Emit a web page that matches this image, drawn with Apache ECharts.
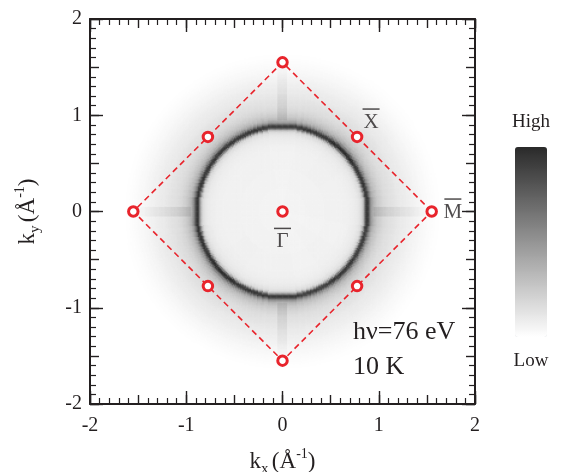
<!DOCTYPE html>
<html><head><meta charset="utf-8">
<script src="https://cdn.jsdelivr.net/npm/echarts@6/dist/echarts.min.js"></script>
<style>html,body{margin:0;padding:0;background:#fff}#c{width:562px;height:472px}</style>
</head><body><div id="c"></div>
<script>
// ---- data ----
const cellStep = 0.0125; // k-space cell size (1/Å)
// intensity (0 = white, 1 = darkest) versus |k|, sampled every 0.0125 1/Å starting at |k| = 0
const radialProfile = [
  0.05,0.05,0.05,0.05,0.05,0.05,0.05,0.05,
  0.055,0.055,0.055,0.055,0.055,0.055,0.055,0.055,0.055,0.055,0.055,0.055,
  0.06,0.06,0.06,0.06,0.06,0.06,0.06,0.06,0.06,0.06,0.06,0.06,0.06,0.06,0.06,0.06,
  0.065,0.065,0.065,0.065,0.065,0.065,0.065,0.065,0.065,0.065,0.065,0.065,0.065,
  0.065,0.065,0.07,0.07,0.07,0.07,0.075,0.075,
  0.08,0.08,0.085,0.09,0.095,0.1,0.11,0.12,0.14,0.16,0.22,0.35,0.6,0.86,0.95,0.88,
  0.7,0.55,0.45,0.38,0.33,0.3,0.27,0.25,0.23,0.215,0.2,0.19,0.18,0.17,0.16,0.155,
  0.15,0.145,0.14,0.135,0.13,0.125,0.12,0.115,0.11,0.105,0.1,0.098,0.095,0.09,0.087,0.083,
  0.08,0.076,0.072,0.068,0.064,0.06,0.056,0.052,0.048,0.045,0.042,0.038,0.035,0.032,0.029,0.026,
  0.023,0.02,0.018,0.015,0.013,0.011,0.009,0.007,0.005,0.004,0.003,0.002
];
// relative ring strength in 16 angular sectors, counter-clockwise from +kx
const ringAngleGain = [1.0,1.0,1.05,1.0,0.97,1.0,1.0,1.0,1.0,1.02,1.05,1.0,0.98,0.96,1.0,0.97];
// extra intensity of the faint streaks along the kx=0 / ky=0 lines, every 0.05 1/Å from |k| = 0.95
const streakStart = 0.95;
const axisStreak = [0.06,0.08,0.08,0.07,0.065,0.06,0.05,0.045,0.04,0.03,0.02,0.015];
const streakHalfWidth = 0.045;
// surface Brillouin zone
const bzOutline = [[1.55,0],[0,1.55],[-1.55,0],[0,-1.55],[1.55,0]];
const bzPoints = [[0,0],[1.55,0],[0,1.55],[-1.55,0],[0,-1.55],[0.775,0.775],[-0.775,0.775],[-0.775,-0.775],[0.775,-0.775]];
const pointLabels = [{name:'X',value:[0.92,0.95]},{name:'M',value:[1.77,0.015]},{name:'Γ',value:[0,-0.29]}];
const axisRange = [-2, 2];
const colorbarText = ['High','Low'];
const infoText = ['hν=76 eV','10 K'];

// ---- build heatmap table ----
const nCells = Math.round((axisRange[1]-axisRange[0])/cellStep);
const cats = [];
for (let i=0;i<nCells;i++) cats.push((axisRange[0]+(i+0.5)*cellStep).toFixed(5));
const heat = [];
for (let i=0;i<nCells;i++){
  const x = axisRange[0]+(i+0.5)*cellStep;
  for (let j=0;j<nCells;j++){
    const y = axisRange[0]+(j+0.5)*cellStep;
    const r = Math.hypot(x,y);
    let v = radialProfile[Math.round(r/cellStep)] || 0;
    let a = Math.atan2(y,x); if (a<0) a += 2*Math.PI;
    const sec = Math.round(a/(2*Math.PI/ringAngleGain.length)) % ringAngleGain.length;
    v *= ringAngleGain[sec];
    if (Math.min(Math.abs(x),Math.abs(y)) < streakHalfWidth && r >= streakStart) {
      v += axisStreak[Math.round((r-streakStart)/0.05)] || 0;
    }
    if (v > 0.003) heat.push([i,j,Math.min(v,1)]);
  }
}

const FONT = 'Liberation Serif';
const INK = '#231f20';
const RED = '#e8242c';
const tickLine = {color:INK,width:1.4};
function valAxis(dim, pos, main, withLabel, extra){
  const ax = {
    gridIndex:1, type:'value', min:axisRange[0], max:axisRange[1], position:pos,
    interval: main ? 0.5 : 1,
    axisLine:{show:main, onZero:false, lineStyle:{color:INK,width:2}},
    axisTick:{show:true, inside:true, length: main ? 9 : 13, lineStyle:tickLine},
    minorTick:{show:main, splitNumber:5, length:6, lineStyle:{color:INK,width:1.2}},
    axisLabel:{show:withLabel, fontFamily:FONT, fontSize:20, color:INK, margin: dim==='x'?12:8,
      formatter: v => (Math.abs(v-Math.round(v))<1e-9 ? String(Math.round(v)) : '')},
    splitLine:{show:false}, minorSplitLine:{show:false}
  };
  return Object.assign(ax, extra||{});
}
const nameRich = {
  k:{fontFamily:FONT,fontSize:23,lineHeight:30,color:INK},
  s:{fontFamily:FONT,fontSize:15,lineHeight:15,verticalAlign:'bottom',color:INK},
  p:{fontFamily:FONT,fontSize:14,lineHeight:14,verticalAlign:'top',color:INK}
};
const gridBox = {left:90,top:19,width:385,height:385,outerBoundsMode:'none',containLabel:false};

const chart = echarts.init(document.getElementById('c'), null, {renderer:'canvas'});
chart.setOption({
  animation:false,
  backgroundColor:'#fff',
  grid:[Object.assign({},gridBox),Object.assign({},gridBox)],
  xAxis:[
    {gridIndex:0,type:'category',data:cats,show:false},
    valAxis('x','bottom',true,true,{name:'{k|k}{s|x} {k|(Å}{p|-1}{k|)}',nameLocation:'middle',nameGap:43,nameTextStyle:{rich:nameRich}}),
    valAxis('x','bottom',false,false),
    valAxis('x','top',true,false),
    valAxis('x','top',false,false)
  ],
  yAxis:[
    {gridIndex:0,type:'category',data:cats,show:false},
    valAxis('y','left',true,true,{name:'{k|k}{s|y} {k|(Å}{p|-1}{k|)}',nameLocation:'middle',nameGap:47,nameRotate:90,nameTextStyle:{rich:nameRich}}),
    valAxis('y','left',false,false),
    valAxis('y','right',true,false),
    valAxis('y','right',false,false)
  ],
  visualMap:{
    type:'continuous', seriesIndex:0, min:0, max:1, calculable:false, orient:'vertical',
    left:497, top:98, itemWidth:32, itemHeight:190, text:colorbarText, textGap:15,
    textStyle:{fontFamily:FONT,fontSize:19,color:INK},
    inRange:{color:['#ffffff','#2a2a2a']}
  },
  graphic:[
    {type:'text',left:353,top:319,z:20,style:{text:infoText[0],fontFamily:FONT,fontSize:26,fill:INK}},
    {type:'text',left:353,top:354,z:20,style:{text:infoText[1],fontFamily:FONT,fontSize:26,fill:INK}}
  ],
  series:[
    {type:'heatmap',xAxisIndex:0,yAxisIndex:0,data:heat,progressive:0,silent:true,z:1},
    {type:'line',xAxisIndex:1,yAxisIndex:1,data:bzOutline,symbol:'none',silent:true,z:3,
      lineStyle:{color:RED,width:1.6,type:[6,4]}},
    {type:'scatter',xAxisIndex:1,yAxisIndex:1,data:bzPoints,symbol:'circle',symbolSize:9.5,silent:true,z:4,
      itemStyle:{color:'#fff',borderColor:RED,borderWidth:3,opacity:1}},
    {type:'scatter',xAxisIndex:1,yAxisIndex:1,data:pointLabels,symbolSize:0.1,silent:true,z:5,
      itemStyle:{color:'rgba(0,0,0,0)'},
      label:{show:true,position:'inside',formatter:p=>'{bar|}\n{t|'+p.name+'}',
        rich:{bar:{width:17,height:1.5,lineHeight:5,backgroundColor:INK},
              t:{fontFamily:FONT,fontSize:21,lineHeight:22,color:INK}}}}
  ]
});
</script></body></html>
